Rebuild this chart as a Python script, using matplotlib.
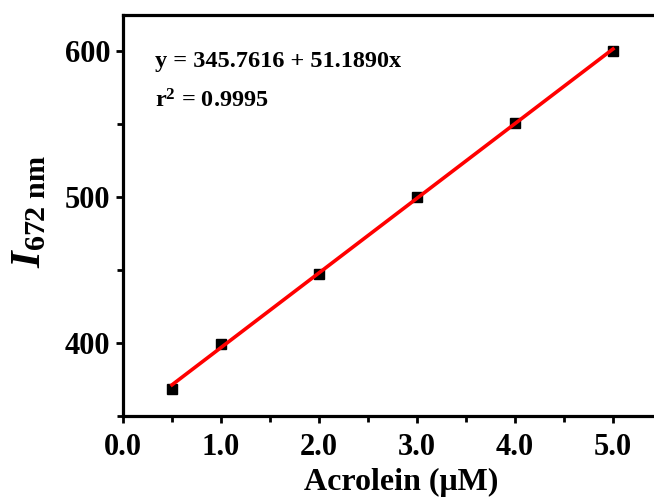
import numpy as np
import matplotlib
matplotlib.use('Agg')
import matplotlib.pyplot as plt
from matplotlib.ticker import MultipleLocator, FormatStrFormatter

plt.rcParams['font.family'] = 'Liberation Serif'
plt.rcParams['font.weight'] = 'bold'
plt.rcParams['mathtext.fontset'] = 'custom'
plt.rcParams['mathtext.rm'] = 'Liberation Serif:bold'
plt.rcParams['mathtext.bf'] = 'Liberation Serif:bold'
plt.rcParams['mathtext.it'] = 'Liberation Serif:italic:bold'

# data
conc = [0.5, 1.0, 2.0, 3.0, 4.0, 5.0]
intensity = [368.8, 399.5, 447.4, 500.0, 550.8, 600.6]

# linear fit shown on the chart
intercept = 345.7616
slope = 51.1890
r2 = 0.9995

fig = plt.figure(figsize=(6.54, 5.01), dpi=100)
ax = fig.add_axes([123 / 654, 1 - 416 / 501, 539 / 654, 401 / 501])

xfit = np.array([conc[0], conc[-1]])
ax.plot(xfit, intercept + slope * xfit, color='red', lw=2.6, zorder=3)
ax.plot(conc, intensity, 's', color='black', markersize=7, zorder=2)

ax.set_xlim(0, 5.5)
ax.set_ylim(350, 625)

ax.xaxis.set_major_locator(MultipleLocator(1.0))
ax.xaxis.set_minor_locator(MultipleLocator(0.5))
ax.xaxis.set_major_formatter(FormatStrFormatter('%.1f'))
ax.yaxis.set_major_locator(MultipleLocator(100))
ax.yaxis.set_minor_locator(MultipleLocator(50))

for side in ['left', 'bottom', 'top']:
    ax.spines[side].set_linewidth(2.3)
ax.spines['right'].set_visible(False)

ax.tick_params(which='both', direction='out', width=2.0, top=False, right=False)
ax.tick_params(which='major', length=5, pad=4, labelsize=22)
ax.tick_params(axis='x', which='major', pad=7)
ax.tick_params(which='minor', length=4)

ax.set_xlabel('Acrolein (\u03bcM)', fontsize=23, fontweight='bold')
ax.xaxis.set_label_coords(0.517, -0.13)
ax.set_ylabel(r'$I_{\mathrm{672\ nm}}$', fontsize=31, va='center')
ax.yaxis.set_label_coords(-0.172, 0.51)

ax.text(0.059, 0.884, f'y = {intercept:.4f} + {slope:.4f}x', transform=ax.transAxes,
        fontsize=17.5, fontweight='bold', va='center', ha='left')
ax.text(0.059, 0.785, r'r$^{\mathbf{2}}$' + f' = {r2:.4f}', transform=ax.transAxes,
        fontsize=17.5, fontweight='bold', va='center', ha='left')

fig.savefig('out.png', dpi=100)
